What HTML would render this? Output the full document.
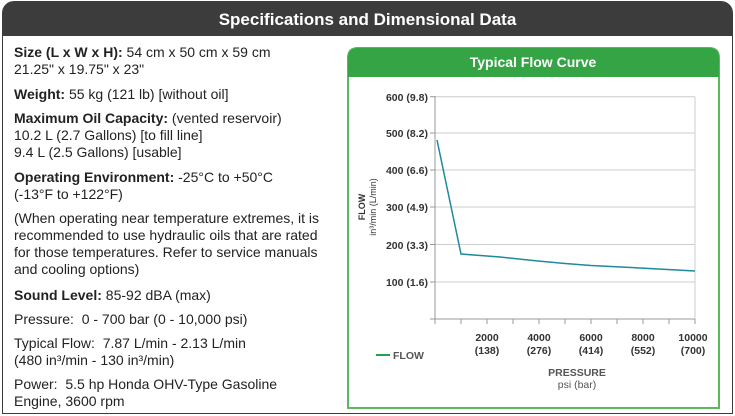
<!DOCTYPE html>
<html><head><style>
body{margin:0;width:735px;height:416px;background:#fff;position:relative;overflow:hidden;font-family:"Liberation Sans",sans-serif;}
#outer{position:absolute;left:2px;top:1px;width:729px;height:411px;border:1.5px solid #3c3c3c;border-radius:12px 12px 0 0;}
#hdr{position:absolute;left:0;top:0;width:729px;height:34px;background:#3c3c3c;border-radius:10px 10px 0 0;color:#fff;font-weight:bold;font-size:17px;text-align:center;line-height:36px;}
.t{position:absolute;left:14px;font-size:14px;color:#222;white-space:nowrap;}
b{color:#222}
</style></head><body>
<div id="outer"><div id="hdr">Specifications and Dimensional Data</div></div>
<div class="t" style="top:44px"><b>Size (L x W x H):</b> 54 cm x 50 cm x 59 cm</div>
<div class="t" style="top:61px">21.25" x 19.75" x 23"</div>
<div class="t" style="top:86px"><b>Weight:</b> 55 kg (121 lb) [without oil]</div>
<div class="t" style="top:110px"><b>Maximum Oil Capacity:</b> (vented reservoir)</div>
<div class="t" style="top:127px">10.2 L (2.7 Gallons) [to fill line]</div>
<div class="t" style="top:144px">9.4 L (2.5 Gallons) [usable]</div>
<div class="t" style="top:169px"><b>Operating Environment:</b> -25°C to +50°C</div>
<div class="t" style="top:186px">(-13°F to +122°F)</div>
<div class="t" style="top:210px">(When operating near temperature extremes, it is</div>
<div class="t" style="top:227px">recommended to use hydraulic oils that are rated</div>
<div class="t" style="top:244px">for those temperatures. Refer to service manuals</div>
<div class="t" style="top:261px">and cooling options)</div>
<div class="t" style="top:287px"><b>Sound Level:</b> 85-92 dBA (max)</div>
<div class="t" style="top:311px">Pressure:&nbsp; 0 - 700 bar (0 - 10,000 psi)</div>
<div class="t" style="top:335px">Typical Flow:&nbsp; 7.87 L/min - 2.13 L/min</div>
<div class="t" style="top:352px">(480 in³/min - 130 in³/min)</div>
<div class="t" style="top:376px">Power:&nbsp; 5.5 hp Honda OHV-Type Gasoline</div>
<div class="t" style="top:393px">Engine, 3600 rpm</div>
<svg width="735" height="416" style="position:absolute;left:0;top:0" font-family="Liberation Sans, sans-serif">
<path d="M348,408 V58 Q348,48 358,48 H709 Q719,48 719,58 V408 Z" fill="#fff" stroke="#5cb85c" stroke-width="2"/>
<path d="M348,77 V58 Q348,48 358,48 H709 Q719,48 719,58 V77 Z" fill="#34a444"/>
<text x="533" y="67" fill="#fff" font-weight="bold" font-size="14" text-anchor="middle">Typical Flow Curve</text>
<g stroke="#ccc" stroke-width="1">
<line x1="435" y1="96.7" x2="695" y2="96.7"/><line x1="435" y1="133" x2="695" y2="133"/>
<line x1="435" y1="170" x2="695" y2="170"/><line x1="435" y1="207" x2="695" y2="207"/>
<line x1="435" y1="244.5" x2="695" y2="244.5"/><line x1="435" y1="282" x2="695" y2="282"/>
<line x1="695" y1="96.7" x2="695" y2="319"/>
</g>
<g stroke="#999" stroke-width="1">
<line x1="435" y1="96" x2="435" y2="324"/><line x1="430" y1="319" x2="695" y2="319"/>
<line x1="430" y1="96.7" x2="435" y2="96.7"/><line x1="430" y1="133" x2="435" y2="133"/><line x1="430" y1="170" x2="435" y2="170"/><line x1="430" y1="207" x2="435" y2="207"/><line x1="430" y1="244.5" x2="435" y2="244.5"/><line x1="430" y1="282" x2="435" y2="282"/>
<line x1="461" y1="319" x2="461" y2="324"/><line x1="487" y1="319" x2="487" y2="324"/><line x1="513" y1="319" x2="513" y2="324"/><line x1="539" y1="319" x2="539" y2="324"/><line x1="565" y1="319" x2="565" y2="324"/><line x1="591" y1="319" x2="591" y2="324"/><line x1="617" y1="319" x2="617" y2="324"/><line x1="643" y1="319" x2="643" y2="324"/><line x1="669" y1="319" x2="669" y2="324"/><line x1="695" y1="319" x2="695" y2="324"/>
</g>
<polyline points="437,140 461,254 500,257 538,261 565,263.5 591,265.5 640,268 695,271" fill="none" stroke="#1f8a9a" stroke-width="1.5"/>
<g font-size="10.5" font-weight="bold" fill="#333" text-anchor="end">
<text x="428" y="101">600  (9.8)</text><text x="428" y="137">500  (8.2)</text><text x="428" y="174">400  (6.6)</text><text x="428" y="211">300  (4.9)</text><text x="428" y="249">200  (3.3)</text><text x="428" y="286">100  (1.6)</text>
</g>
<g font-size="10.5" font-weight="bold" fill="#333" text-anchor="middle">
<text x="487" y="341">2000</text><text x="487" y="354">(138)</text>
<text x="539" y="341">4000</text><text x="539" y="354">(276)</text>
<text x="591" y="341">6000</text><text x="591" y="354">(414)</text>
<text x="643" y="341">8000</text><text x="643" y="354">(552)</text>
<text x="693" y="341">10000</text><text x="693" y="354">(700)</text>
<text x="577" y="376" fill="#555">PRESSURE</text><text x="577" y="388" fill="#555" font-weight="normal">psi (bar)</text>
<text transform="translate(365,207) rotate(-90)" font-size="9">FLOW</text>
<text transform="translate(376,207) rotate(-90)" font-size="9" font-weight="normal">in³/min (L/min)</text>
</g>
<line x1="376" y1="355" x2="390" y2="355" stroke="#2aa04a" stroke-width="2"/>
<text x="393" y="359" font-size="10.5" font-weight="bold" fill="#555">FLOW</text>
</svg>
</body></html>
